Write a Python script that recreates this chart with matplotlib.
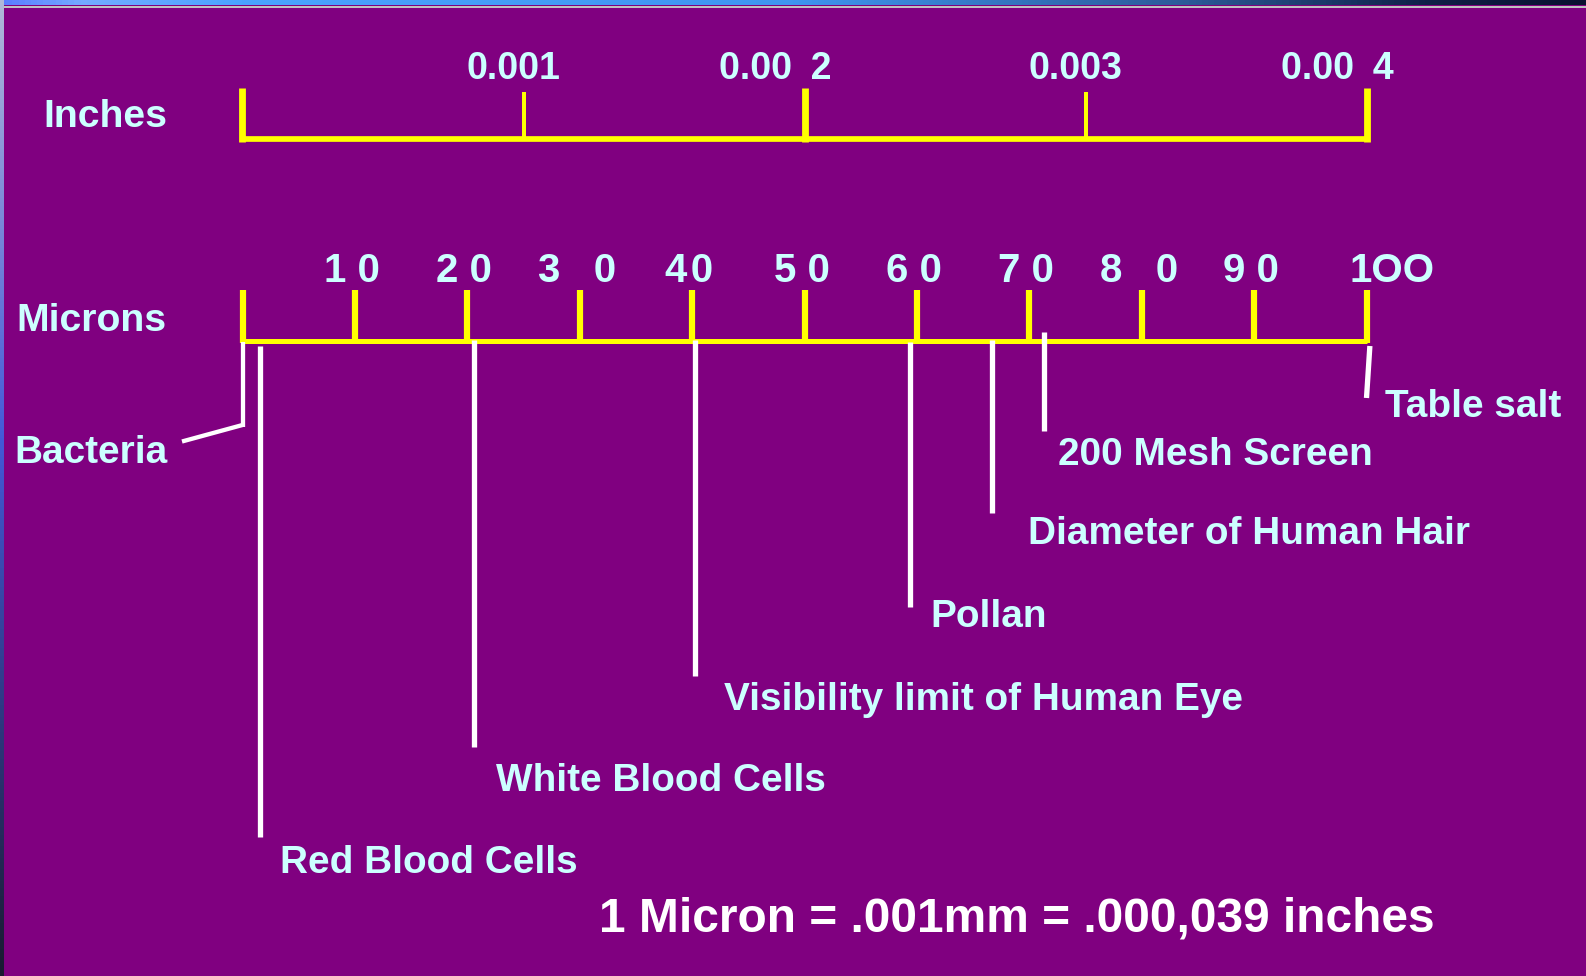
import numpy as np
import matplotlib
matplotlib.use("Agg")
import matplotlib.pyplot as plt
from matplotlib.transforms import offset_copy
from matplotlib.colors import LinearSegmentedColormap

# ---------------- data ----------------
micron_ticks = [0, 10, 20, 30, 40, 50, 60, 70, 80, 90, 100]
micron_tick_labels = ["", "1 0", "2 0", "3   0", "4\u200a0", "5 0", "6 0", "7 0", "8   0", "9 0", "1OO"]
inch_ticks = [0.0, 0.001, 0.002, 0.003, 0.004]
inch_tick_labels = ["", "0.001", "0.00\u20022", "0.003", "0.00\u20024"]
inch_major = [True, False, True, False, True]
objects = ["Bacteria", "Red Blood Cells", "White Blood Cells",
           "Visibility limit of Human Eye", "Pollan",
           "Diameter of Human Hair", "200 Mesh Screen", "Table salt"]
object_microns = [0, 1.6, 20.6, 40.3, 59.4, 66.7, 71.3, 100]
footnote = "1 Micron = .001mm = .000,039 inches"

# ---------------- layout ----------------
W, H = 1586, 976
X0_PX, X1_PX = 242.5, 1366.5          # pixel span of the scales
BG = "#800080"
YEL = "#FFFF00"
TXT = "#CCFFFF"
PT = 72.0 / 100.0                      # points per pixel at dpi 100
FONT = "Liberation Sans"
LABEL_FS = 27.9

plt.rcParams["font.family"] = [FONT, "DejaVu Sans"]

fig = plt.figure(figsize=(W / 100, H / 100), dpi=100, facecolor=BG)

# pixel overlay axes
px = fig.add_axes([0, 0, 1, 1], label="px")
px.set_facecolor(BG)
px.axis("off")

# micron axes
mu = fig.add_axes([0, 0, 1, 1], label="mu")
mu.patch.set_visible(False)
mu.axis("off")
ppm = (X1_PX - X0_PX) / (micron_ticks[-1] - micron_ticks[0])
mu.set_xlim(-X0_PX / ppm, (W - X0_PX) / ppm)
mu.set_ylim(H, 0)

# inch axes
ia = fig.add_axes([0, 0, 1, 1], label="inch")
ia.patch.set_visible(False)
ia.axis("off")
ppi = (X1_PX - X0_PX) / (inch_ticks[-1] - inch_ticks[0])
ia.set_xlim(-X0_PX / ppi, (W - X0_PX) / ppi)
ia.set_ylim(H, 0)

# ---------------- borders ----------------
top_cmap = LinearSegmentedColormap.from_list(
    "top", [(0, "#5b7cff"), (0.05, "#74aaff"), (0.15, "#4aa3ff"), (0.5, "#3f95f0"),
            (0.75, "#2c5a98"), (0.9, "#0f2048"), (1, "#0a1030")])
left_cmap = LinearSegmentedColormap.from_list(
    "left", [(0, "#b0b8d8"), (0.45, "#4458d8"), (1, "#1a1a30")])
grad = np.linspace(0, 1, 256)
px.imshow(grad[np.newaxis, :], extent=(0, W, 5.5, 0), cmap=top_cmap, aspect="auto", zorder=5)
px.fill_between([0, W], 5.5, 7.5, color="#c0c0c0", lw=0, zorder=5)
px.imshow(grad[:, np.newaxis], extent=(0, 4, H, 0), cmap=left_cmap, aspect="auto", zorder=5)
px.set_xlim(0, W)
px.set_ylim(H, 0)

# ---------------- inch scale ----------------
ia.plot([inch_ticks[0], inch_ticks[-1]], [139, 139], color=YEL, lw=5.7 * PT,
        solid_capstyle="butt")
for v, major in zip(inch_ticks, inch_major):
    if major:
        ia.plot([v, v], [88, 141.8], color=YEL, lw=6.8 * PT, solid_capstyle="butt")
    else:
        ia.plot([v, v], [91.7, 139], color=YEL, lw=4 * PT, solid_capstyle="butt")
for v, lab in zip(inch_ticks, inch_tick_labels):
    if not lab:
        continue
    if "\u2002" in lab:
        tr = offset_copy(ia.transData, fig=fig, x=27, y=0, units="dots")
        ha = "right"
    else:
        tr = offset_copy(ia.transData, fig=fig, x=-10, y=0, units="dots")
        ha = "center"
    ia.text(v, 79.3, lab, transform=tr, ha=ha, va="baseline", color=TXT,
            fontsize=27, fontweight="bold")

# ---------------- micron scale ----------------
mu.plot([micron_ticks[0], micron_ticks[-1]], [340.5, 340.5], color=YEL, lw=5 * PT,
        solid_capstyle="butt")
for v in micron_ticks:
    mu.plot([v, v], [290, 343], color=YEL, lw=6.2 * PT, solid_capstyle="butt")
for v, lab in zip(micron_ticks, micron_tick_labels):
    if not lab:
        continue
    if lab == "1OO":
        tr = offset_copy(mu.transData, fig=fig, x=-17, y=0, units="dots")
        ha = "left"
    else:
        tr = offset_copy(mu.transData, fig=fig, x=-3, y=0, units="dots")
        ha = "center"
    mu.text(v, 281.7, lab, transform=tr, ha=ha, va="baseline", color=TXT,
            fontsize=29, fontweight="bold")

# ---------------- object markers ----------------
line_top = [342, 346, 340, 340, 342, 340, 332, 346]
line_bot = [427, 837, 747, 676, 607, 513, 431, 398]
label_pos = [(14, 462.7), (280.5, 873.3), (495.5, 791), (724, 710), (930.5, 627.3),
             (1028.5, 544.3), (1058, 465.3), (1385, 416.7)]
for i, (name, v) in enumerate(zip(objects, object_microns)):
    x_top = v + (0.3 if name == "Table salt" else 0)
    lw = 4.3 if name == "Bacteria" else 5.3
    mu.plot([x_top, v], [line_top[i], line_bot[i]], color="white", lw=lw * PT,
            solid_capstyle="butt")
    if name == "Bacteria":
        # connector from the bottom of the line to the label
        start = px.transData.inverted().transform(mu.transData.transform((v, 425)))
        px.plot([start[0], 182], [425, 441.5], color="white", lw=4.3 * PT,
                solid_capstyle="butt")
    px.text(label_pos[i][0], label_pos[i][1], name, ha="left", va="baseline",
            color=TXT, fontsize=LABEL_FS, fontweight="bold")

# axis titles
px.text(43.5, 127.3, "Inches", ha="left", va="baseline", color=TXT, fontsize=28.3,
        fontweight="bold")
px.text(16, 330.8, "Microns", ha="left", va="baseline", color=TXT, fontsize=28.3,
        fontweight="bold")

# footnote
px.text(599, 931.6, footnote, ha="left", va="baseline", color="white",
        fontsize=34.5, fontweight="bold")

fig.savefig("out.png", dpi=100, facecolor=BG)
